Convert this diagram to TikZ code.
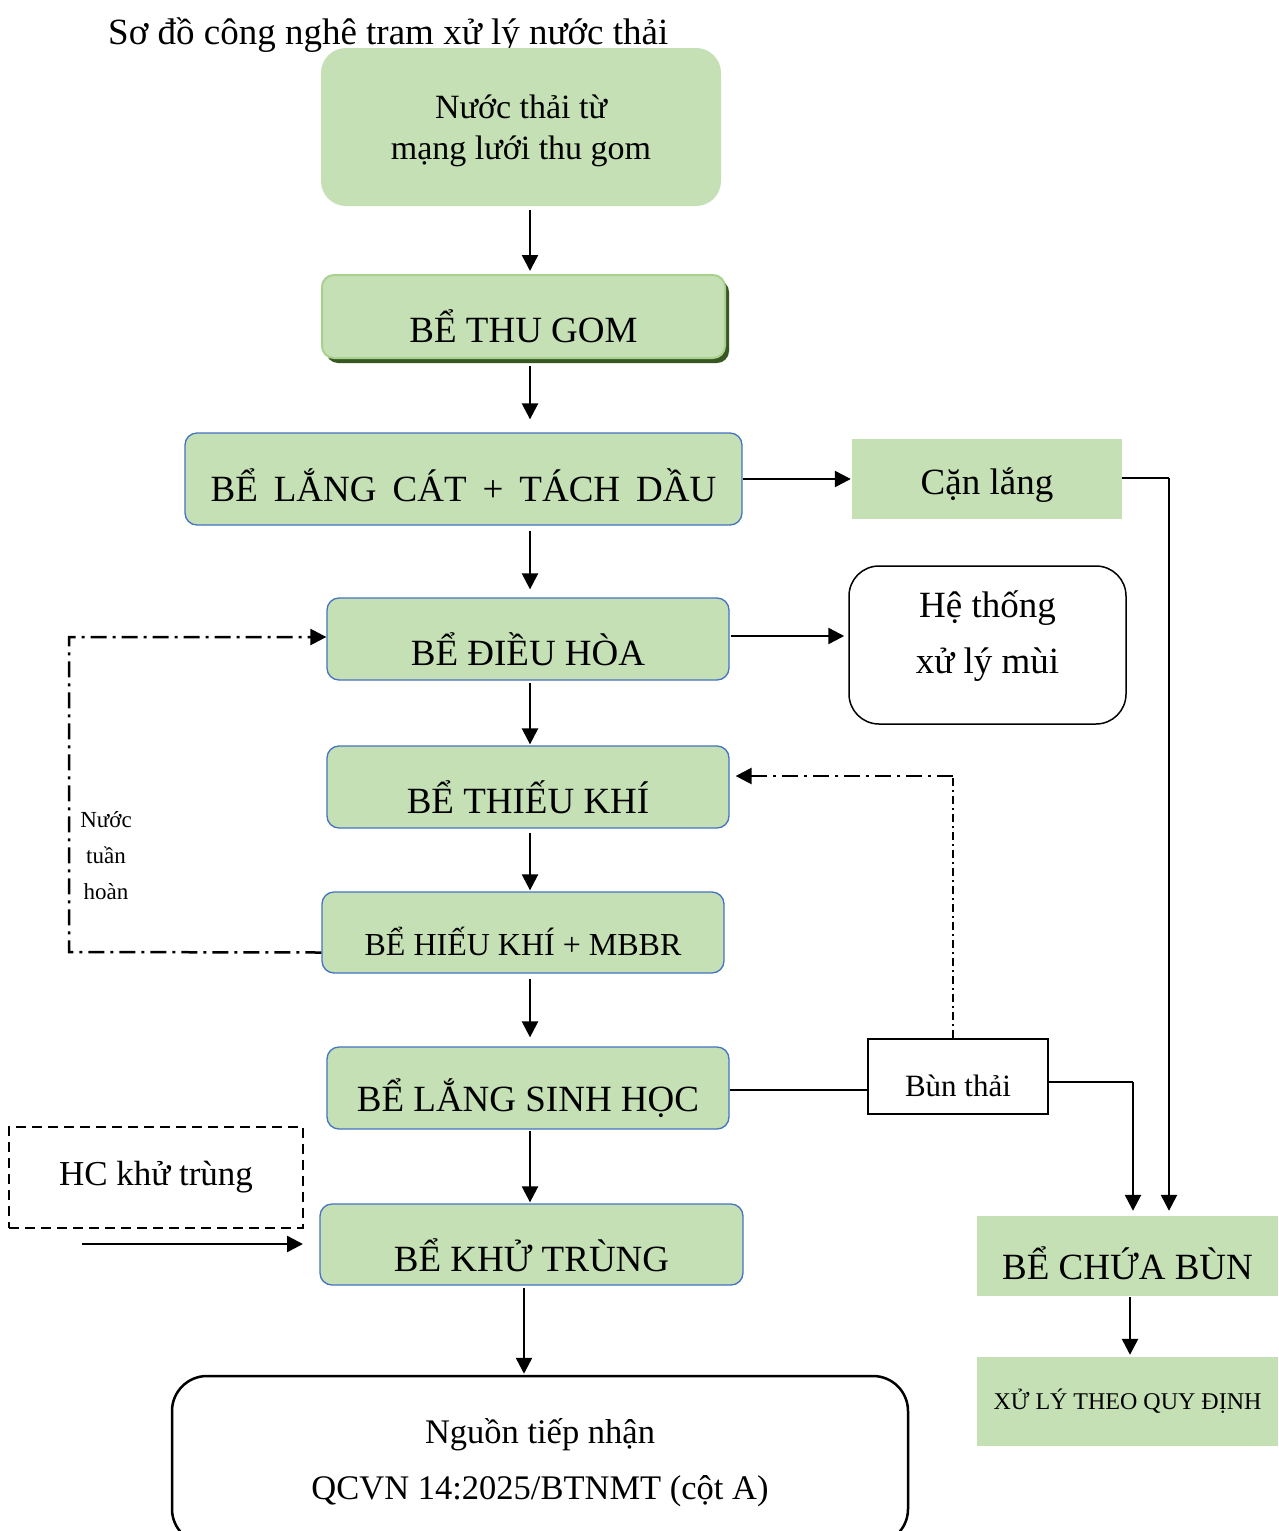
\documentclass[tikz,border=0pt]{standalone}
\usepackage{fontspec}
\setmainfont{Liberation Serif}
\usetikzlibrary{arrows.meta,shadows}
\definecolor{lgreen}{HTML}{C5E0B4}
\definecolor{boxblue}{HTML}{4472C4}
\definecolor{gborder}{HTML}{A9D18E}
\definecolor{shadowgreen}{HTML}{385723}
\newcommand\lowr[2][10pt]{\raisebox{-#1}[\height][\depth]{#2}}
\newcommand\fs[2]{\fontsize{#1}{#2}\selectfont}
\begin{document}
\begin{tikzpicture}[x=1pt,y=-1pt,
  txt/.style={inner sep=0pt, align=center, font=\fs{37}{44}},
  gbox/.style={txt, fill=lgreen, draw=boxblue, line width=1.3pt, rounded corners=12pt},
  pbox/.style={txt, fill=lgreen},
  tip/.style={-{Triangle[length=16pt,width=16pt]}},
  arr/.style={line width=2.5pt, tip},
  plainline/.style={line width=1.5pt},
  dd/.style={line width=2.5pt, dash pattern=on 16pt off 6pt on 3pt off 6pt},
  ddthin/.style={line width=1.3pt, dash pattern=on 8pt off 4pt on 2pt off 4pt},
]
\useasboundingbox (0,0) rectangle (1278,1531);
\fill[white] (0,0) rectangle (1278,1531);

\node[anchor=base west, inner sep=0pt, font=\fs{37}{44}] (title) at (108,44) {Sơ đồ công nghê tram xử lý nước thải};

\node[txt, fill=lgreen, rounded corners=25pt, minimum width=400pt, minimum height=158pt] (n1) at (521,127)
  {\raisebox{-4pt}[\height][\depth]{\fs{34}{41}\begin{tabular}{@{}c@{}}Nước thải từ\\mạng lưới thu gom\end{tabular}}};

\node[txt, fill=lgreen, draw=gborder, line width=2pt, rounded corners=12pt, minimum width=403pt, minimum height=83pt,
  drop shadow={shadow xshift=4pt, shadow yshift=-5pt, fill=shadowgreen, opacity=1}] (n2) at (523.5,316.5) {\lowr{BỂ THU GOM}};

\node[gbox, minimum width=557pt, minimum height=92pt] (n3) at (463.5,479) {\lowr[6pt]{BỂ\hskip16pt LẮNG\hskip16pt CÁT\hskip16pt +\hskip16pt TÁCH\hskip16pt DẦU}};

\node[pbox, minimum width=270pt, minimum height=80pt] (can) at (987,479) {\lowr[6pt]{Cặn lắng}};

\node[gbox, minimum width=402pt, minimum height=82pt] (n4) at (528,639) {\lowr{BỂ ĐIỀU HÒA}};

\node[txt, draw=black, line width=1.5pt, rounded corners=30pt, minimum width=277pt, minimum height=158pt] (odor) at (987.5,645)
  {\raisebox{11pt}[\height][\depth]{\fs{37}{56}\begin{tabular}{@{}c@{}}Hệ thống\\xử lý mùi\end{tabular}}};

\node[gbox, minimum width=402pt, minimum height=82pt] (n5) at (528,787) {\lowr{BỂ THIẾU KHÍ}};

\node[gbox, minimum width=402pt, minimum height=81pt, font=\fs{32}{38}] (n6) at (523,932.5) {\lowr[9pt]{BỂ HIẾU KHÍ + MBBR}};

\node[gbox, minimum width=402pt, minimum height=82pt] (n7) at (528,1088) {\lowr{BỂ LẮNG SINH HỌC}};

\node[txt, draw=black, line width=2pt, minimum width=180pt, minimum height=75pt, font=\fs{31}{37}] (bun) at (958,1076.5) {\lowr[9pt]{Bùn thải}};

\node[txt, draw=black, line width=2pt, dash pattern=on 10pt off 6pt, minimum width=294pt, minimum height=101pt, font=\fs{35}{42}] (hc) at (156,1177.5) {HC khử trùng};

\node[gbox, minimum width=423pt, minimum height=81pt] (n8) at (531.5,1244.5) {\lowr[11pt]{BỂ KHỬ TRÙNG}};

\node[txt, draw=black, line width=2.5pt, rounded corners=35pt, minimum width=736pt, minimum height=168pt] (ngu) at (540,1460)
  {\fs{34.5}{56}\begin{tabular}{@{}c@{}}Nguồn tiếp nhận\\QCVN 14:2025/BTNMT (cột A)\end{tabular}};

\node[pbox, minimum width=301pt, minimum height=80pt] (chua) at (1127.5,1256) {\lowr[7pt]{BỂ CHỨA BÙN}};

\node[pbox, minimum width=301pt, minimum height=89pt, font=\fs{24}{29}] (xl) at (1127.5,1401.5) {XỬ LÝ THEO QUY ĐỊNH};

\node[txt, font=\fs{23}{36}] (lbl) at (106,856) {Nước\\tuần\\hoàn};

% helper coordinates
\coordinate (cx) at (530,0);
\coordinate (cx2) at (524,0);
\coordinate (cx3) at (1130,0);
\coordinate (bendA) at (1169,478);
\coordinate (bendB) at (1133,1082);
\coordinate (corner) at (953,776);
\coordinate (rc1) at (69,952);
\coordinate (rc2) at (69,637);
\coordinate (hcA) at (82,1244);
\coordinate (hcB) at (303,1244);

% main flow
\draw[arr, shorten <=4pt, shorten >=3pt] (n1.south -| cx) -- (n2.north -| cx);
\draw[arr, shorten <=7pt, shorten >=13pt] (n2.south -| cx) -- (n3.north -| cx);
\draw[arr, shorten <=5pt, shorten >=8pt] (n3.south -| cx) -- (n4.north -| cx);
\draw[arr, shorten <=2pt, shorten >=1pt] (n4.south -| cx) -- (n5.north -| cx);
\draw[arr, shorten <=4pt, shorten >=1pt] (n5.south -| cx) -- (n6.north -| cx);
\draw[arr, shorten <=5pt, shorten >=9pt] (n6.south -| cx) -- (n7.north -| cx);
\draw[arr, shorten <=1pt, shorten >=1pt] (n7.south -| cx) -- (n8.north -| cx);
\draw[arr, shorten <=2pt, shorten >=1pt] (n8.south -| cx2) -- (ngu.north -| cx2);

% side branches
\draw[arr, shorten >=1pt] (n3.east) -- (can.west);
\draw[arr, shorten <=1pt, shorten >=4pt] ([yshift=3pt]n4.east) -- ([yshift=3pt]n4.east -| odor.west);
\draw[plainline] (can.east |- bendA) -- (bendA);
\draw[arr, shorten >=5pt] (bendA) -- (chua.north -| bendA);
\draw[plainline] (bun.east |- bendB) -- (bendB);
\draw[arr, shorten >=5pt] (bendB) -- (chua.north -| bendB);
\draw[plainline] ([yshift=-2pt]n7.east) -- ([yshift=-2pt]n7.east -| bun.west);
\draw[arr, shorten <=1pt, shorten >=2pt] (chua.south -| cx3) -- (xl.north -| cx3);

% recycle lines
\draw[ddthin] (bun.north -| corner) -- (corner);
\draw[dd, tip, shorten >=6pt] (corner) -- (corner -| n5.east);
\draw[dd, tip] ([yshift=-20pt]n6.west) -- (rc1) -- (rc2) -- (rc2 -| n4.west);

% disinfectant feed
\draw[arr] (hcA) -- (hcB);
\end{tikzpicture}
\end{document}
